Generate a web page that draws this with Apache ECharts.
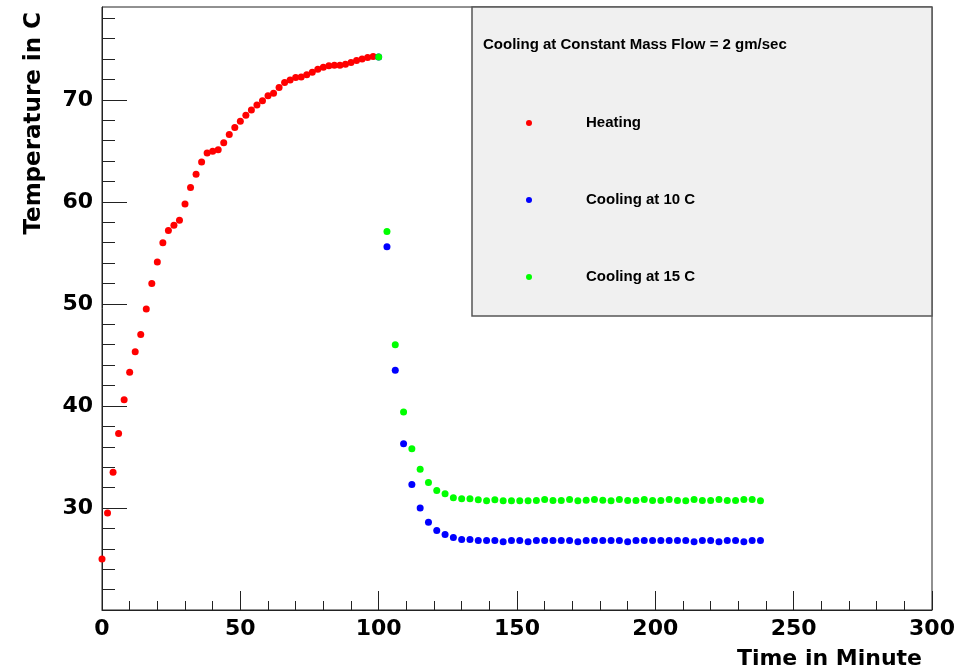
<!DOCTYPE html>
<html>
<head>
<meta charset="utf-8">
<title>Cooling at Constant Mass Flow</title>
<script src="https://cdn.jsdelivr.net/npm/echarts@6/dist/echarts.min.js"></script>
<style>
  html, body { margin: 0; padding: 0; background: #ffffff; }
  #chart { width: 965px; height: 672px; }
</style>
</head>
<body>
<div id="chart"></div>
<script>
// Heating run: time (minutes) and temperature (C)
const heatTime = [0, 2, 4, 6, 8, 10, 12, 14, 16, 18, 20, 22, 24, 26, 28, 30, 32, 34, 36, 38,
  40, 42, 44, 46, 48, 50, 52, 54, 56, 58, 60, 62, 64, 66, 68, 70, 72, 74, 76, 78,
  80, 82, 84, 86, 88, 90, 92, 94, 96, 98];
const heatTemp = [25.0, 29.5, 33.5, 37.3, 40.6, 43.3, 45.3, 47.0, 49.5, 52.0,
  54.1, 56.0, 57.2, 57.7, 58.2, 59.8, 61.4, 62.7, 63.9, 64.8,
  64.95, 65.1, 65.8, 66.6, 67.3, 67.9, 68.5, 69.0, 69.5, 69.9,
  70.4, 70.65, 71.2, 71.7, 71.95, 72.2, 72.25, 72.45, 72.7, 73.0,
  73.2, 73.35, 73.4, 73.4, 73.5, 73.65, 73.85, 74.0, 74.15, 74.25];

// Cooling runs share the same sampling times
const coolTime = [100, 103, 106, 109, 112, 115, 118, 121, 124, 127, 130, 133, 136, 139, 142, 145,
  148, 151, 154, 157, 160, 163, 166, 169, 172, 175, 178, 181, 184, 187, 190, 193,
  196, 199, 202, 205, 208, 211, 214, 217, 220, 223, 226, 229, 232, 235, 238];
const cool10Temp = [74.2, 55.6, 43.5, 36.3, 32.3, 30.0, 28.6, 27.8, 27.4, 27.1, 26.9, 26.9,
  26.8, 26.8, 26.8, 26.7, 26.8, 26.8, 26.7, 26.8, 26.8, 26.8, 26.8, 26.8,
  26.7, 26.8, 26.8, 26.8, 26.8, 26.8, 26.7, 26.8, 26.8, 26.8, 26.8, 26.8,
  26.8, 26.8, 26.7, 26.8, 26.8, 26.7, 26.8, 26.8, 26.7, 26.8, 26.8];
const cool15Temp = [74.2, 57.1, 46.0, 39.4, 35.8, 33.8, 32.5, 31.7, 31.4, 31.0, 30.9, 30.9,
  30.8, 30.7, 30.8, 30.7, 30.7, 30.7, 30.7, 30.72, 30.82, 30.72, 30.72, 30.82,
  30.7, 30.76, 30.82, 30.76, 30.7, 30.82, 30.72, 30.72, 30.82, 30.72, 30.72, 30.82,
  30.72, 30.7, 30.82, 30.72, 30.72, 30.82, 30.72, 30.72, 30.82, 30.82, 30.7];

// Axis ticks and labels
const xMajor = [0, 50, 100, 150, 200, 250, 300];
const xMinor = [10, 20, 30, 40, 60, 70, 80, 90, 110, 120, 130, 140, 160, 170, 180, 190,
  210, 220, 230, 240, 260, 270, 280, 290];
const yMajor = [20, 30, 40, 50, 60, 70];
const yLabels = [30, 40, 50, 60, 70];
const yMinor = [22, 24, 26, 28, 32, 34, 36, 38, 42, 44, 46, 48, 52, 54, 56, 58,
  62, 64, 66, 68, 72, 74, 76, 78];

const seriesNames = ['Heating', 'Cooling at 10 C', 'Cooling at 15 C'];
const seriesColors = ['#ff0000', '#0000ff', '#00ff00'];
const legendTitle = 'Cooling at Constant Mass Flow = 2 gm/sec';

const X_MIN = 0, X_MAX = 300, Y_MIN = 20, Y_MAX = 79.1;

function pairs(xs, ys) { return xs.map((x, i) => [x, ys[i]]); }

const axisFont = 'DejaVu Sans';
const legendFont = 'Liberation Sans';
const frameColor = '#222';

const chart = echarts.init(document.getElementById('chart'), null, { renderer: 'canvas' });

function scatterSeries(i, data) {
  return {
    name: seriesNames[i], type: 'scatter', symbol: 'circle', symbolSize: 7,
    itemStyle: { color: seriesColors[i], opacity: 1 },
    emphasis: { disabled: true },
    data: data
  };
}

const option = {
  animation: false,
  backgroundColor: '#ffffff',
  grid: {
    left: 102, right: 33, top: 7, bottom: 62,
    show: true, borderColor: frameColor, borderWidth: 1,
    backgroundColor: 'transparent',
    outerBoundsMode: 'none'
  },
  xAxis: [
    {
      type: 'value', min: X_MIN, max: X_MAX, position: 'bottom',
      axisLine: { show: true, lineStyle: { color: frameColor, width: 1 } },
      axisTick: { show: true, inside: true, length: 19, customValues: xMajor,
        lineStyle: { color: frameColor, width: 1 } },
      axisLabel: { show: true, customValues: xMajor, margin: 8,
        fontFamily: axisFont, fontWeight: 'bold', fontSize: 22, color: '#000' },
      splitLine: { show: false },
      name: 'Time in Minute', nameLocation: 'end', nameGap: -10,
      nameTextStyle: { fontFamily: axisFont, fontWeight: 'bold', fontSize: 22, color: '#000',
        align: 'right', verticalAlign: 'top', padding: [38, 0, 0, 0] }
    },
    {
      type: 'value', min: X_MIN, max: X_MAX, position: 'bottom',
      axisLine: { show: false },
      axisTick: { show: true, inside: true, length: 9, customValues: xMinor,
        lineStyle: { color: frameColor, width: 1 } },
      axisLabel: { show: false },
      splitLine: { show: false }
    }
  ],
  yAxis: [
    {
      type: 'value', min: Y_MIN, max: Y_MAX, position: 'left',
      axisLine: { show: true, lineStyle: { color: frameColor, width: 1 } },
      axisTick: { show: true, inside: true, length: 25, customValues: yMajor,
        lineStyle: { color: frameColor, width: 1 } },
      axisLabel: { show: true, customValues: yLabels, margin: 9,
        fontFamily: axisFont, fontWeight: 'bold', fontSize: 22, color: '#000' },
      splitLine: { show: false },
      name: 'Temperature in C', nameLocation: 'end', nameGap: -5, nameRotate: 90,
      nameTextStyle: { fontFamily: axisFont, fontWeight: 'bold', fontSize: 23, color: '#000',
        align: 'right', verticalAlign: 'bottom', padding: [0, 0, 56, 0] }
    },
    {
      type: 'value', min: Y_MIN, max: Y_MAX, position: 'left',
      axisLine: { show: false },
      axisTick: { show: true, inside: true, length: 13, customValues: yMinor,
        lineStyle: { color: frameColor, width: 1 } },
      axisLabel: { show: false },
      splitLine: { show: false }
    }
  ],
  legend: seriesNames.map((name, i) => ({
    data: [name],
    orient: 'vertical',
    left: 526,
    top: [114, 191, 268][i],
    padding: 0,
    itemWidth: 6, itemHeight: 6,
    icon: 'circle',
    selectedMode: false,
    z: 10,
    textStyle: { fontFamily: legendFont, fontWeight: 'bold', fontSize: 15, color: '#000',
      lineHeight: 18, padding: [0, 0, 0, 49] }
  })),
  graphic: [
    {
      type: 'rect', z: 5,
      shape: { x: 472, y: 7, width: 460, height: 309 },
      style: { fill: '#f0f0f0', stroke: '#555', lineWidth: 1.5 }
    },
    {
      type: 'text', z: 6, x: 483, y: 45,
      style: { text: legendTitle, font: 'bold 15px "Liberation Sans"', fill: '#000',
        textVerticalAlign: 'middle', verticalAlign: 'middle' }
    }
  ],
  series: [
    scatterSeries(0, pairs(heatTime, heatTemp)),
    scatterSeries(1, pairs(coolTime, cool10Temp)),
    scatterSeries(2, pairs(coolTime, cool15Temp))
  ]
};

chart.setOption(option);
</script>
</body>
</html>
